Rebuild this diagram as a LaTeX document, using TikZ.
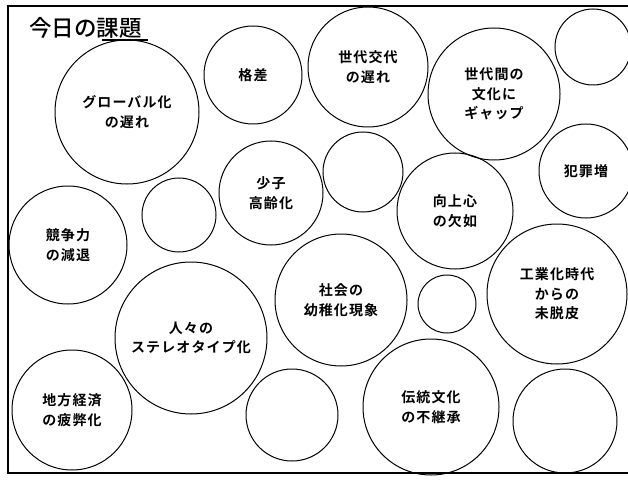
\documentclass[tikz,border=0pt]{standalone}
\usepackage{fontspec}
\newfontfamily\jpbold[LetterSpace=8]{Noto Sans CJK JP Bold}
\newfontfamily\jpmed{Noto Sans CJK JP Medium}
\begin{document}
\begin{tikzpicture}[x=1pt,y=-1pt,
  bub/.style={circle,draw=black,line width=1.0pt,inner sep=0pt,minimum size=#1,
    align=center,font=\jpbold\fontsize{14}{19.5}\selectfont},
  frameline/.style={line width=2pt,draw=black}]
\clip (0,0) rectangle (628,481);
\fill[white] (0,0) rectangle (628,481);
% frame
\draw[frameline] (640,6) -- (8,6) -- (8,473) -- (640,473);
% title
\node[anchor=west,inner sep=0pt,font=\jpmed\fontsize{22.5}{24}\selectfont] (title) at (29,28) {今日の課題};
\coordinate (ulA) at (102,40);
\coordinate (ulB) at (148,40);
\draw[line width=1.3pt] (ulA) -- (ulB);
% bubbles
\node[bub=144pt] (glob) at (127,112) {グローバル化\\の遅れ};
\node[bub=98pt]  (kaku) at (253,75) {格差};
\node[bub=120pt] (sedai) at (368,67) {世代交代\\の遅れ};
\node[bub=132pt] (gap) at (494,94) {世代間の\\文化に\\ギャップ};
\node[bub=76pt]  (e1) at (593,47) {};
\node[bub=104pt] (shoushi) at (271,193) {少子\\高齢化};
\node[bub=80pt]  (e2) at (363,172) {};
\node[bub=116pt] (koujou) at (455,211) {向上心\\の欠如};
\node[bub=94pt]  (hanzai) at (586,171) {犯罪増};
\node[bub=74pt]  (e3) at (179,215) {};
\node[bub=118pt] (kyousou) at (68,245) {競争力\\の減退};
\node[bub=152pt] (hitobito) at (191,338) {人々の\\ステレオタイプ化};
\node[bub=120pt] (chihou) at (72,410) {地方経済\\の疲弊化};
\node[bub=132pt] (shakai) at (341,300) {社会の\\幼稚化現象};
\node[bub=58pt]  (e4) at (447,304) {};
\node[bub=140pt] (kougyou) at (557,294) {工業化時代\\からの\\未脱皮};
\node[bub=92pt]  (e5) at (292,415) {};
\node[bub=136pt] (dentou) at (431,407) {伝統文化\\の不継承};
\node[bub=104pt] (e6) at (565,421) {};
\end{tikzpicture}
\end{document}
